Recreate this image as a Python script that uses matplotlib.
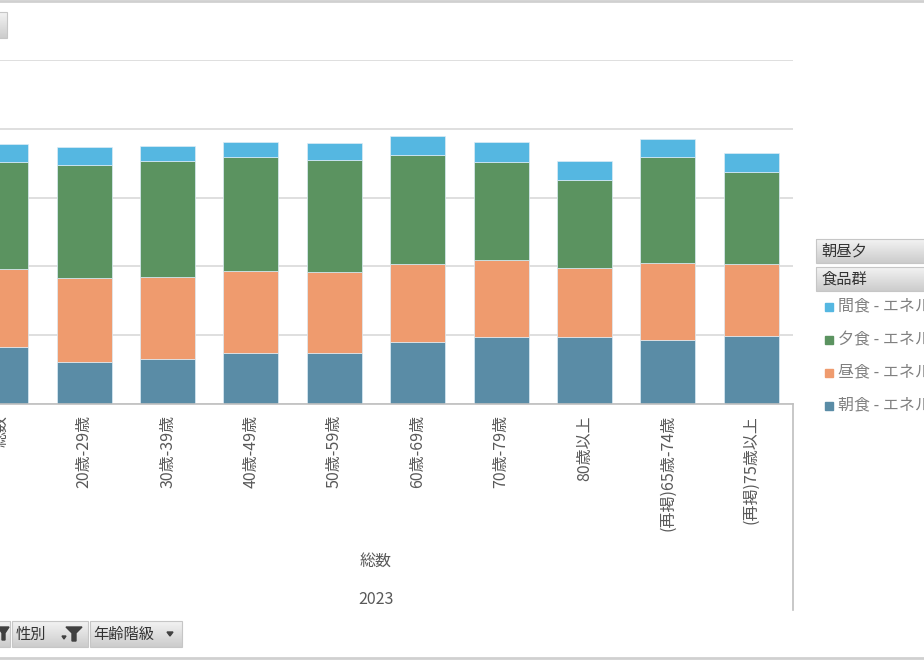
"""Stacked bar: energy intake by meal (朝食/昼食/夕食/間食) per age group, 2023.
Recreates an Excel pivot chart screenshot (cropped on the left and right).
"""

import matplotlib.pyplot as plt
import numpy as np
from matplotlib.patches import Polygon, Rectangle

plt.rcParams["font.family"] = ["Noto Sans CJK JP", "DejaVu Sans"]

W, H = 924, 660

categories = [
    "総数", "20歳-29歳", "30歳-39歳", "40歳-49歳", "50歳-59歳",
    "60歳-69歳", "70歳-79歳", "80歳以上", "(再掲)65歳-74歳", "(再掲)75歳以上",
]
breakfast = [412, 307, 327, 368, 368, 448, 487, 487, 463, 494]
lunch = [571, 608, 596, 600, 589, 569, 557, 504, 560, 523]
dinner = [773, 821, 843, 824, 816, 794, 714, 635, 770, 669]
snack = [133, 129, 107, 113, 126, 136, 148, 140, 133, 140]

series_names = ["朝食 - エネルギー", "昼食 - エネルギー", "夕食 - エネルギー", "間食 - エネルギー"]
series_colors = ["#5a8ca6", "#ef9b6e", "#5b9360", "#55b7e1"]

group_label = "総数"
year_label = "2023"
legend_headers = ["朝昼夕", "食品群"]
filter_buttons = ["性別", "年齢階級"]

TEXT = "#595959"
GRID = "#d9d9d9"

fig = plt.figure(figsize=(W / 100, H / 100), dpi=100)

# plot area: left edge lies off-screen (cropped screenshot)
px_left, px_right, px_top, px_base = -41, 793, 60, 404
ax = fig.add_axes([px_left / W, (H - px_base) / H,
                   (px_right - px_left) / W, (px_base - px_top) / H])

x = np.arange(len(categories))
bottom = np.zeros(len(categories))
for vals, name, color in zip([breakfast, lunch, dinner, snack], series_names, series_colors):
    ax.bar(x, vals, width=0.66, bottom=bottom, color=color, label=name,
           edgecolor="#dcecf6", linewidth=0.5, zorder=2)
    bottom += np.array(vals)

ax.set_xlim(-0.5, len(categories) - 0.5)
ax.set_ylim(0, 2500)
ax.set_yticks(np.arange(0, 2501, 500))
ax.yaxis.grid(True, color=GRID, linewidth=1.2, zorder=0)
ax.tick_params(axis="y", left=False, labelleft=False)
ax.tick_params(axis="x", length=0, pad=8, colors=TEXT)
ax.set_xticks(x)
ax.set_xticklabels(categories, rotation=90, fontsize=11.5, color=TEXT)
for side in ["top", "left", "right"]:
    ax.spines[side].set_visible(False)
ax.spines["bottom"].set_color("#bfbfbf")
ax.spines["bottom"].set_linewidth(1.2)

# multi-level category labels and the right-hand separator
xt = ax.get_xaxis_transform()
ax.text(x.mean(), (px_base - 561) / (px_base - px_top), group_label, transform=xt,
        ha="center", va="center", fontsize=11.5, color=TEXT)
ax.text(x.mean(), (px_base - 600) / (px_base - px_top), year_label, transform=xt,
        ha="center", va="center", fontsize=11.5, color=TEXT)
ax.plot([len(categories) - 0.5] * 2, [0, (px_base - 610) / (px_base - px_top)],
        transform=xt, color="#bfbfbf", linewidth=1.2, clip_on=False)

# overlay in pixel coords for the pivot-chart chrome
ov = fig.add_axes([0, 0, 1, 1], facecolor="none")
ov.set_xlim(0, W)
ov.set_ylim(H, 0)
ov.axis("off")

grad = np.linspace(0.95, 0.80, 32)[:, None]


def button(x0, y0, x1, y1):
    ov.imshow(grad, cmap="gray", vmin=0, vmax=1, extent=(x0, x1, y1, y0),
              aspect="auto", zorder=3)
    ov.add_patch(Rectangle((x0, y0), x1 - x0, y1 - y0, fill=False,
                           edgecolor="#c6c6c6", linewidth=0.8, zorder=4))


# frame lines
ov.plot([0, W], [1, 1], color="#d0d0d0", linewidth=2)
ov.plot([0, W], [658, 658], color="#d0d0d0", linewidth=2)

# top-left cropped button
button(-5, 12, 7, 38)

# legend headers
button(816, 239, W + 5, 263)
button(816, 267, W + 5, 291)
for txt, yc in zip(legend_headers, [251, 279]):
    ov.text(821, yc, txt, ha="left", va="center", fontsize=11, color="#333333", zorder=5)

# legend entries (reversed order like Excel)
for i, (name, color) in enumerate(zip(series_names[::-1], series_colors[::-1])):
    yc = 307 + i * 33
    ov.add_patch(Rectangle((825, yc - 4), 8, 8, color=color, zorder=5))
    ov.text(838, yc, name, ha="left", va="center", fontsize=11.5, color="#808080", zorder=5)

# bottom filter buttons
button(-5, 621, 10, 647)
button(12, 621, 88, 647)
button(90, 621, 182, 647)
ov.add_patch(Polygon([[-2, 627], [9, 627], [5, 633], [5, 640], [2, 640], [2, 633]],
                     closed=True, color="#404040", zorder=5))
ov.text(16, 634, filter_buttons[0], ha="left", va="center", fontsize=11, color="#333333", zorder=5)
ov.add_patch(Polygon([[62, 636], [66, 636], [64, 639]], closed=True, color="#404040", zorder=5))
ov.add_patch(Polygon([[66, 627], [82, 627], [76, 633], [76, 641], [72, 641], [72, 633]],
                     closed=True, color="#404040", zorder=5))
ov.text(93, 634, filter_buttons[1], ha="left", va="center", fontsize=11, color="#333333", zorder=5)
ov.add_patch(Polygon([[167, 632], [173, 632], [170, 636]], closed=True, color="#404040", zorder=5))

ov.set_xlim(0, W)
ov.set_ylim(H, 0)

fig.savefig("out.png", dpi=100)
